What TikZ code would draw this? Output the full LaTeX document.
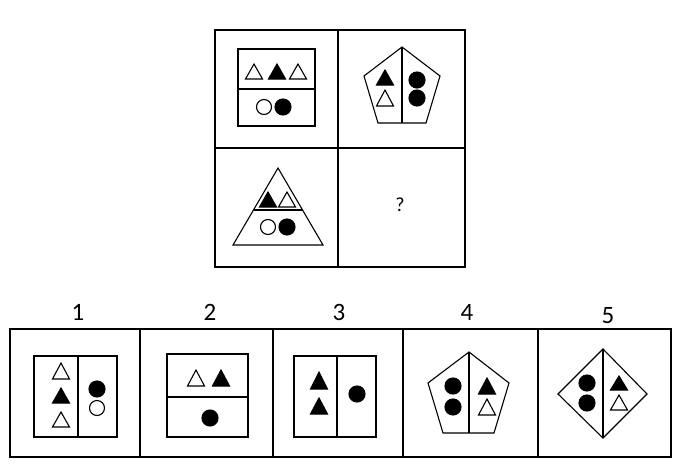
\documentclass[tikz,border=0pt]{standalone}
\usepackage{fontspec}
\setmainfont{Carlito}
\newcommand\wtri[3]{\draw[shp,fill=white] (#1,#2) -- (#1-8.5,#3) -- (#1+8.5,#3) -- cycle;}
\newcommand\btri[3]{\draw[shp,fill=black] (#1,#2) -- (#1-8.5,#3) -- (#1+8.5,#3) -- cycle;}
\newcommand\wcir[2]{\draw[shp,fill=white] (#1,#2) circle[radius=7.5];}
\newcommand\bcir[2]{\draw[shp,fill=black] (#1,#2) circle[radius=8];}
\tikzset{
  shp/.style={line width=1.1pt, line join=miter},
  frame/.style={line width=1.3pt},
  lbl/.style={font=\fontsize{25}{27}\selectfont, inner sep=0pt}
}
\begin{document}
\begin{tikzpicture}[x=1pt,y=-1pt]
\useasboundingbox (0,0) rectangle (682,463);
% top grid
\draw[frame] (215,30) rectangle (465,267);
\draw[frame] (338,30) -- (338,267);
\draw[frame] (215,148) -- (465,148);
% cell 1
\draw[shp] (238,49) rectangle (315,126);
\draw[shp] (238,89) -- (315,89);
\wtri{254}{64}{79}
\btri{277}{64}{79}
\wtri{298}{64}{79}
\wcir{264}{107}
\bcir{283}{107}
% cell 2
\draw[shp] (402,47) -- (440,76) -- (426,123) -- (378,123) -- (364,76) -- cycle;
\draw[shp] (402,47) -- (402,123);
\btri{385}{70}{85}
\wtri{385}{90}{106}
\bcir{417}{80}
\bcir{417}{98}
% cell 3
\draw[shp] (278,168) -- (323,245) -- (233,245) -- cycle;
\draw[shp] (253.5,210) -- (302.5,210);
\btri{268}{192}{207}
\wtri{287}{192}{207}
\wcir{268}{227}
\bcir{287}{227}
% cell 4
\node[font=\fontsize{20}{22}\selectfont, inner sep=0pt] (q) at (400,205) {?};
% bottom row
\draw[frame] (10,329) rectangle (671,457);
\foreach \x in {140,273,403,538} \draw[frame] (\x,329) -- (\x,457);
\node[lbl] (l1) at (78,312) {1};
\node[lbl] (l2) at (210,312) {2};
\node[lbl] (l3) at (339,312) {3};
\node[lbl] (l4) at (467,312) {4};
\node[lbl] (l5) at (608,316) {5};
% option 1
\draw[shp] (34,356) rectangle (117,437);
\draw[shp] (78,356) -- (78,437);
\wtri{61}{363}{379}
\btri{61}{388}{403}
\wtri{61}{412}{427}
\bcir{97}{389}
\wcir{97}{408}
% option 2
\draw[shp] (167,354) rectangle (248,437);
\draw[shp] (167,397) -- (248,397);
\wtri{196}{370}{386}
\btri{221}{370}{386}
\bcir{210}{418}
% option 3
\draw[shp] (294,356) rectangle (376,437);
\draw[shp] (337,356) -- (337,437);
\btri{319}{372}{389}
\btri{319}{398}{414}
\bcir{357}{394}
% option 4
\draw[shp] (469,352) -- (509,383) -- (494,433) -- (443,433) -- (428,383) -- cycle;
\draw[shp] (469,352) -- (469,433);
\bcir{453}{386}
\bcir{453}{407}
\btri{487}{378}{394}
\wtri{487}{399}{415}
% option 5
\draw[shp] (603,349) -- (647,394) -- (603,438) -- (558,394) -- cycle;
\draw[shp] (603,349) -- (603,438);
\bcir{587}{383}
\bcir{587}{403}
\btri{619}{376}{390}
\wtri{619}{395}{410}
\end{tikzpicture}
\end{document}
